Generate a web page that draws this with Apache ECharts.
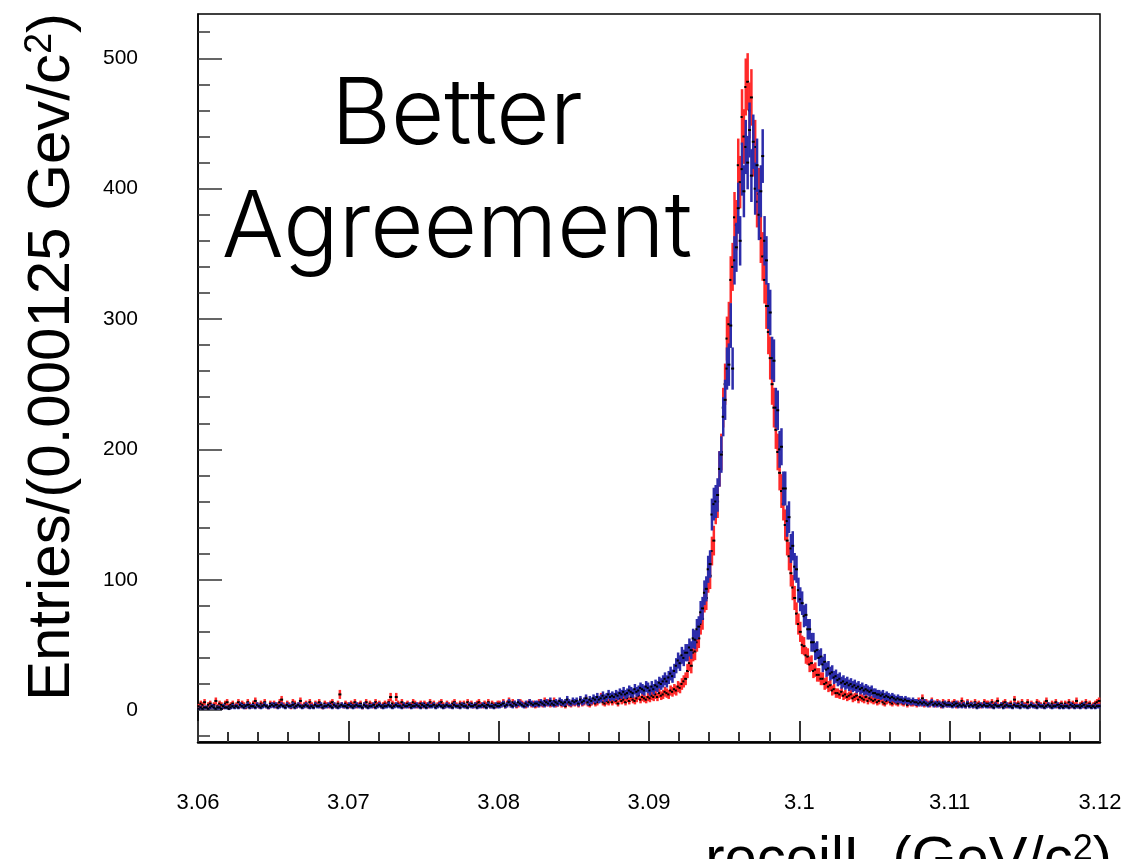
<!DOCTYPE html>
<html>
<head>
<meta charset="utf-8">
<script src="https://cdn.jsdelivr.net/npm/echarts@6/dist/echarts.min.js"></script>
<style>
  html, body { margin: 0; padding: 0; background: #fff; }
  #chart { width: 1129px; height: 859px; }
</style>
</head>
<body>
<div id="chart"></div>
<script>
// histogram binning (ROOT style): 480 bins of 0.000125 from 3.06 to 3.12
const binLo = 3.06;
const binWidth = 0.000125;

// entries per bin, red sample (20 bins per row)
const redCounts = [
  3,5,4,6,2,4,5,3,4,7,3,5,4,2,5,6,3,4,5,3,
  4,6,3,5,4,2,6,4,3,5,7,4,3,5,4,6,3,2,5,4,
  5,3,4,6,8,4,3,5,4,2,6,5,3,4,7,3,4,5,3,6,
  4,3,5,4,6,3,2,5,4,3,5,6,4,3,5,12,4,3,5,4,
  3,5,4,6,3,4,5,2,4,6,3,5,4,3,6,4,5,3,4,5,
  4,6,10,5,4,10,5,4,6,3,4,5,3,4,6,5,3,4,5,3,
  5,4,3,6,4,5,3,4,5,6,4,3,5,4,3,5,6,4,3,5,
  4,5,3,6,4,5,3,4,5,6,4,3,5,4,6,3,5,4,3,5,
  5,4,6,3,5,7,4,6,5,3,4,6,5,4,3,5,6,4,5,3,
  4,6,5,4,7,5,6,4,5,7,4,5,6,4,5,3,6,5,4,6,
  5,6,4,7,5,6,8,5,4,6,7,5,6,8,10,6,5,7,6,8,
  6,8,7,5,9,7,8,6,9,7,10,8,7,9,11,8,10,9,8,10,
  9,11,10,12,10,13,11,12,14,13,12,15,14,16,15,18,17,20,22,24,
  30,36,34,44,45,52,55,66,70,84,86,100,103,122,130,155,160,185,198,232,
  250,285,296,330,340,378,372,418,405,455,440,478,482,460,470,430,432,390,396,362,
  348,330,310,290,270,250,232,215,198,182,168,158,142,130,118,105,94,86,74,66,
  60,50,49,42,41,35,36,30,31,27,27,24,24,20,21,18,19,15,16,13,
  13,12,14,11,12,10,11,12,9,10,11,8,10,9,8,10,7,9,8,7,
  8,6,7,9,6,5,7,8,6,5,7,6,5,8,6,5,7,4,6,5,
  5,6,4,7,5,9,4,6,5,4,7,5,4,6,5,3,6,5,4,6,
  4,5,6,3,5,4,7,5,3,6,4,5,3,6,4,5,3,4,6,5,
  5,3,6,4,5,7,3,4,5,6,3,4,5,3,8,4,5,3,6,4,
  4,6,3,5,4,3,6,5,4,3,5,7,4,3,5,4,6,3,4,5,
  3,5,4,6,3,5,4,7,3,4,5,3,6,4,5,3,4,5,6,7
];

// entries per bin, blue sample
const blueCounts = [
  1,2,1,2,2,1,2,3,2,1,2,2,1,3,2,2,1,2,3,2,
  3,2,4,3,2,3,4,2,3,3,2,4,3,2,3,4,3,2,3,4,
  3,4,2,3,4,3,2,4,3,3,4,2,3,4,3,2,3,4,3,2,
  3,2,4,3,3,4,2,3,3,4,3,2,4,3,2,3,4,3,3,2,
  4,3,2,3,4,3,3,2,4,3,2,3,3,4,2,3,4,3,2,3,
  3,4,3,2,3,4,3,3,2,4,3,3,4,2,3,3,4,3,2,4,
  3,2,4,3,3,4,2,3,4,3,2,3,4,3,3,2,4,3,3,2,
  4,3,3,2,4,3,3,4,2,3,3,4,3,2,4,3,3,2,4,3,
  3,4,5,3,4,6,4,3,5,4,6,5,4,3,5,4,6,5,4,5,
  5,4,6,5,4,6,5,7,5,4,6,5,7,6,5,6,8,6,5,7,
  6,7,5,8,6,7,9,6,8,7,9,8,10,8,9,11,9,10,12,10,
  11,10,12,11,13,12,14,12,13,15,14,13,16,14,15,17,16,15,18,17,
  15,18,16,19,18,21,20,22,24,22,25,28,26,30,34,38,36,42,40,44,
  44,48,46,55,54,62,64,75,78,90,93,108,112,150,158,160,165,185,196,225,
  238,262,265,295,262,345,355,385,360,415,398,432,420,445,410,436,400,418,380,398,
  425,360,345,310,305,270,268,232,230,200,202,170,170,145,148,124,126,110,108,92,
  85,82,72,73,62,62,52,52,45,46,40,41,35,37,31,32,28,29,25,26,
  23,24,21,22,20,21,19,20,18,19,17,18,16,17,15,16,15,14,15,13,
  13,12,12,11,12,10,11,10,9,10,9,8,9,8,8,7,8,7,7,6,
  7,6,6,5,6,5,6,5,4,5,6,4,5,4,5,4,3,5,4,4,
  4,3,4,5,3,4,3,4,3,5,3,4,3,4,2,3,4,3,4,3,
  3,4,3,2,4,3,3,4,2,3,4,3,3,2,4,3,3,2,4,3,
  3,2,3,4,3,3,2,4,3,3,2,3,4,3,2,3,3,4,2,3,
  2,3,3,2,4,3,2,3,3,2,3,4,2,3,3,2,3,2,3,3
];

// axis ticks
const xTicks = [3.06, 3.07, 3.08, 3.09, 3.1, 3.11, 3.12];
const yMajorTicks = [0, 100, 200, 300, 400, 500];
const yMinorTicks = [-20, 20, 40, 60, 80, 120, 140, 160, 180, 220, 240, 260, 280,
                     320, 340, 360, 380, 420, 440, 460, 480, 520];

const FONT = '"Liberation Sans", Arial, Helvetica, sans-serif';

function toPoints(counts) {
    return counts.map((n, i) => [binLo + (i + 0.5) * binWidth, n, Math.sqrt(n)]);
}

function errorBars(color) {
    return function (params, api) {
        const x = api.value(0), y = api.value(1), e = api.value(2);
        const top = api.coord([x, y + e]);
        const bot = api.coord([x, y - e]);
        const c = api.coord([x, y]);
        return {
            type: 'group',
            children: [{
                type: 'line',
                shape: {x1: top[0], y1: top[1], x2: bot[0], y2: bot[1]},
                style: {stroke: color, lineWidth: 2.5}
            }, {
                type: 'rect',
                shape: {x: c[0] - 1.5, y: c[1] - 1, width: 3, height: 2},
                style: {fill: '#000'}
            }]
        };
    };
}

const chart = echarts.init(document.getElementById('chart'));

const yRange = {min: -24.5, max: 534};

let option = {
    animation: false,
    backgroundColor: '#fff',
    grid: {
        left: 198, right: 29, top: 14, bottom: 117,
        show: true, borderColor: '#000', borderWidth: 1.5, backgroundColor: 'transparent'
    },
    xAxis: {
        type: 'value',
        min: 3.06, max: 3.12, interval: 0.01,
        axisLine: {show: true, onZero: false, lineStyle: {color: '#000', width: 2.5}},
        axisTick: {show: true, inside: true, length: 21, lineStyle: {color: '#333', width: 2}},
        minorTick: {show: true, splitNumber: 5, length: 10, lineStyle: {color: '#333', width: 2}},
        splitLine: {show: false},
        axisLabel: {
            margin: 50, color: '#000', fontSize: 22, fontFamily: FONT,
            customValues: xTicks,
            formatter: v => String(+v.toFixed(2))
        }
    },
    yAxis: [{
        type: 'value',
        min: yRange.min, max: yRange.max,
        axisLine: {show: true, lineStyle: {color: '#000', width: 1.5}},
        axisTick: {show: true, inside: true, length: 24, customValues: yMajorTicks,
                   lineStyle: {color: '#333', width: 1.5}},
        splitLine: {show: false},
        axisLabel: {margin: 60, color: '#000', fontSize: 21, fontFamily: FONT,
                    customValues: yMajorTicks}
    }, {
        type: 'value',
        min: yRange.min, max: yRange.max,
        position: 'left',
        axisLine: {show: false},
        axisTick: {show: true, inside: true, length: 12, customValues: yMinorTicks,
                   lineStyle: {color: '#333', width: 1.5}},
        splitLine: {show: false},
        axisLabel: {show: false}
    }],
    series: [{
        name: 'red',
        type: 'custom',
        renderItem: errorBars('#ff2a2a'),
        encode: {x: 0, y: 1},
        data: toPoints(redCounts),
        z: 2
    }, {
        name: 'blue',
        type: 'custom',
        renderItem: errorBars('#2c2caa'),
        encode: {x: 0, y: 1},
        data: toPoints(blueCounts),
        z: 3
    }],
    graphic: [{
        type: 'text',
        x: 457, y: 60,
        style: {
            text: 'Better\nAgreement',
            fontFamily: 'Inter, Roboto, sans-serif',
            fontWeight: 300,
            fontSize: 92,
            lineHeight: 113,
            align: 'center',
            verticalAlign: 'top',
            fill: '#000'
        }
    }, {
        type: 'text',
        x: 52, y: 357,
        rotation: Math.PI / 2,
        style: {
            text: '{a|Entries/(0.000125 Gev/c}{s|2}{a|)}',
            align: 'center',
            verticalAlign: 'middle',
            fill: '#000',
            rich: {
                a: {fontSize: 60, fontFamily: FONT, fill: '#000'},
                s: {fontSize: 38, fontFamily: FONT, fill: '#000', verticalAlign: 'top'}
            }
        }
    }, {
        type: 'text',
        x: 1112, y: 832,
        style: {
            text: '{a|recoilL (GeV/c}{s|2}{a|)}',
            align: 'right',
            verticalAlign: 'top',
            fill: '#000',
            rich: {
                a: {fontSize: 58, fontFamily: FONT, fill: '#000'},
                s: {fontSize: 36, fontFamily: FONT, fill: '#000', verticalAlign: 'top'}
            }
        }
    }]
};

chart.setOption(option);
</script>
</body>
</html>
